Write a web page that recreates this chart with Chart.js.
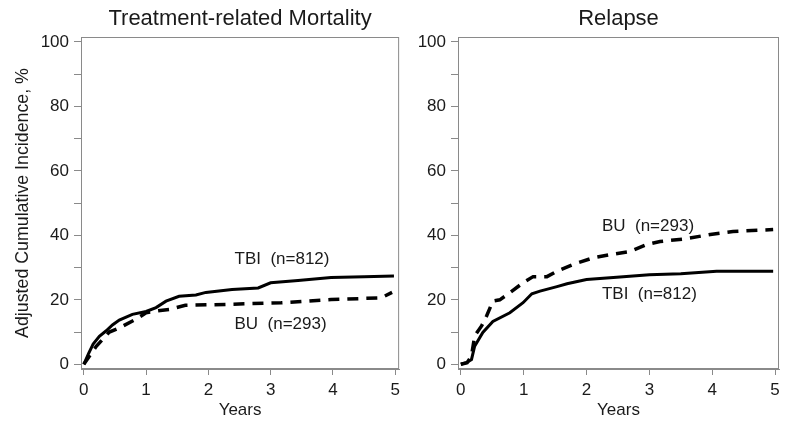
<!DOCTYPE html>
<html>
<head>
<meta charset="utf-8">
<script src="https://cdn.jsdelivr.net/npm/chart.js@4/dist/chart.umd.min.js"></script>
<style>
  html, body { margin: 0; padding: 0; background: #fff; }
  #wrap { position: relative; width: 800px; height: 425px; }
  #trmChart { position: absolute; left: 0; top: 0; }
  #relChart { position: absolute; left: 405px; top: 0; }
</style>
</head>
<body>
<div id="wrap">
  <canvas id="trmChart" width="405" height="425"></canvas>
  <canvas id="relChart" width="395" height="425"></canvas>
</div>
<script>
// Treatment-related mortality, TBI (n=812)
const trmTbiYears = [0, 0.08, 0.15, 0.25, 0.36, 0.46, 0.57, 0.78, 1.0, 1.16, 1.32, 1.53, 1.8, 1.96, 2.38, 2.8, 3.0, 3.44, 3.97, 4.5, 4.98];
const trmTbiPct   = [0, 3.5, 6.3, 8.7, 10.4, 12.2, 13.7, 15.5, 16.4, 17.6, 19.6, 21.1, 21.5, 22.3, 23.2, 23.7, 25.3, 26.0, 26.9, 27.2, 27.4];
// Treatment-related mortality, BU (n=293)
const trmBuYears = [0, 0.1, 0.2, 0.41, 0.57, 0.84, 1.0, 1.16, 1.37, 1.63, 2.3, 3.17, 3.97, 4.77, 4.95];
const trmBuPct   = [0, 2.8, 5.6, 10.0, 11.3, 14.0, 16.0, 16.5, 17.0, 18.3, 18.6, 19.1, 20.1, 20.6, 22.3];
// Relapse, TBI (n=812)
const relTbiYears = [0, 0.09, 0.17, 0.22, 0.35, 0.51, 0.78, 0.99, 1.13, 1.26, 1.53, 1.69, 2.0, 2.48, 3.0, 3.5, 4.07, 4.97];
const relTbiPct   = [0, 0.5, 1.5, 5.6, 9.9, 13.3, 16.0, 19.1, 21.9, 22.7, 24.1, 25.0, 26.3, 27.0, 27.8, 28.1, 28.9, 28.9];
// Relapse, BU (n=293)
const relBuYears = [0, 0.1, 0.17, 0.22, 0.33, 0.41, 0.51, 0.62, 0.78, 0.99, 1.15, 1.37, 1.53, 1.79, 2.1, 2.37, 2.69, 2.96, 3.17, 3.6, 3.97, 4.33, 4.97];
const relBuPct   = [0, 0.5, 2.6, 8.8, 11.9, 15.0, 19.6, 20.0, 22.2, 25.3, 27.2, 27.2, 28.9, 31.0, 33.0, 34.0, 35.0, 37.2, 38.1, 39.0, 40.3, 41.2, 41.8];

const xTicks = [0, 1, 2, 3, 4, 5];
const yTicks = [0, 10, 20, 30, 40, 50, 60, 70, 80, 90, 100];
const yLabelled = [0, 20, 40, 60, 80, 100];

const FONT = "'Liberation Sans', Arial, sans-serif";
const TEXT = '#1a1a1a';
const FRAME = '#8a8a8a';

function toPoints(xs, ys) {
    return xs.map((x, i) => ({ x: x, y: ys[i] }));
}

// Box round the plot area plus the curve labels
const framePlugin = {
    id: 'frame',
    afterDraw(chart) {
        const a = chart.chartArea;
        const ctx = chart.ctx;
        ctx.save();
        ctx.strokeStyle = FRAME;
        ctx.lineWidth = 1;
        ctx.strokeRect(a.left + 0.5, a.top + 0.5, a.right - a.left - 1, a.bottom - a.top - 1);
        const items = chart.options.plugins.frame.labels || [];
        ctx.fillStyle = TEXT;
        ctx.font = '17px ' + FONT;
        ctx.textAlign = 'left';
        ctx.textBaseline = 'middle';
        items.forEach(item => {
            const px = chart.scales.x.getPixelForValue(item.x);
            const py = chart.scales.y.getPixelForValue(item.y);
            ctx.fillText(item.text, px, py);
        });
        ctx.restore();
    }
};

function makeChart(canvasId, title, tbiPts, buPts, opts) {
    const canvas = document.getElementById(canvasId);
    return new Chart(canvas, {
        type: 'line',
        data: {
            datasets: [
                {
                    label: 'TBI (n=812)',
                    data: tbiPts,
                    borderColor: '#000',
                    borderWidth: 3,
                    pointRadius: 0,
                    tension: 0,
                    fill: false
                },
                {
                    label: 'BU (n=293)',
                    data: buPts,
                    borderColor: '#000',
                    borderWidth: 3.5,
                    borderDash: [11, 8],
                    pointRadius: 0,
                    tension: 0,
                    fill: false
                }
            ]
        },
        options: {
            responsive: false,
            animation: false,
            layout: { padding: { left: 0, right: opts.padRight, top: 0, bottom: 0 } },
            plugins: {
                legend: { display: false },
                tooltip: { enabled: false },
                title: {
                    display: true,
                    text: title,
                    fullSize: false,
                    color: TEXT,
                    font: { family: FONT, size: 22, weight: 'normal' },
                    padding: { top: 6, bottom: 4.6 }
                },
                frame: { labels: opts.labels }
            },
            scales: {
                x: {
                    type: 'linear',
                    min: -0.045,
                    max: 5.063,
                    afterBuildTicks: s => { s.ticks = xTicks.map(v => ({ value: v })); },
                    afterFit: s => { s.height = 56; },
                    grid: { drawOnChartArea: false, drawTicks: true, tickLength: 6, color: FRAME },
                    border: { display: true, color: FRAME },
                    ticks: {
                        color: TEXT,
                        padding: 5,
                        maxRotation: 0,
                        autoSkip: false,
                        font: { family: FONT, size: 17 }
                    },
                    title: {
                        display: true,
                        text: 'Years',
                        color: TEXT,
                        font: { family: FONT, size: 17 },
                        padding: { top: 0, bottom: 4 }
                    }
                },
                y: {
                    type: 'linear',
                    min: -1.46,
                    max: 101.55,
                    afterBuildTicks: s => { s.ticks = yTicks.map(v => ({ value: v })); },
                    afterFit: s => { s.width = opts.yWidth; },
                    grid: { drawOnChartArea: false, drawTicks: true, tickLength: 7, color: FRAME },
                    border: { display: true, color: FRAME },
                    ticks: {
                        color: TEXT,
                        padding: 5,
                        autoSkip: false,
                        font: { family: FONT, size: 17 },
                        callback: v => yLabelled.includes(v) ? String(v) : ''
                    },
                    title: {
                        display: opts.yTitle,
                        text: 'Adjusted Cumulative Incidence, %',
                        color: TEXT,
                        font: { family: FONT, size: 17.8 },
                        padding: { top: 12, bottom: 0 }
                    }
                }
            }
        },
        plugins: [framePlugin]
    });
}

makeChart('trmChart', 'Treatment-related Mortality',
    toPoints(trmTbiYears, trmTbiPct), toPoints(trmBuYears, trmBuPct),
    {
        padRight: 2, yWidth: 81, yTitle: true,
        labels: [
            { text: 'TBI  (n=812)', x: 2.42, y: 32.5 },
            { text: 'BU  (n=293)', x: 2.42, y: 12.4 }
        ]
    });

makeChart('relChart', 'Relapse',
    toPoints(relTbiYears, relTbiPct), toPoints(relBuYears, relBuPct),
    {
        padRight: 21, yWidth: 53, yTitle: false,
        labels: [
            { text: 'BU  (n=293)', x: 2.245, y: 42.7 },
            { text: 'TBI  (n=812)', x: 2.245, y: 21.7 }
        ]
    });
</script>
</body>
</html>
